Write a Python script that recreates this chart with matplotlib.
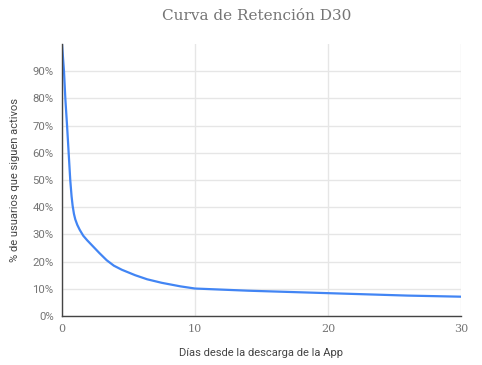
import matplotlib
matplotlib.use("Agg")
import matplotlib.pyplot as plt
from matplotlib.ticker import PercentFormatter

# datos
dias = [0, 0.15, 0.25, 0.38, 0.5, 0.62, 0.72, 0.8, 0.9, 1.0, 1.15, 1.33, 1.6, 1.9, 2.35,
        2.8, 3.36, 3.9, 4.5, 5.5, 6.4, 7.5, 8.9, 10,
        12, 14, 16, 18, 20, 22, 24, 26, 28, 30]
retencion = [1.00, 0.90, 0.80, 0.70, 0.60, 0.50, 0.44, 0.405, 0.375, 0.355, 0.335, 0.317, 0.295, 0.278, 0.255,
             0.232, 0.205, 0.185, 0.17, 0.15, 0.135, 0.122, 0.109, 0.101,
             0.097, 0.093, 0.09, 0.087, 0.084, 0.081, 0.078, 0.075, 0.073, 0.071]
xticks = [0, 10, 20, 30]
yticks = [0, 0.1, 0.2, 0.3, 0.4, 0.5, 0.6, 0.7, 0.8, 0.9]

gris = "#757575"

fig = plt.figure(figsize=(4.82, 3.65), dpi=100)
ax = fig.add_axes([62 / 482, 49 / 365, 399 / 482, 272 / 365])

ax.plot(dias, retencion, color="#4285F4", lw=1.6, solid_capstyle="round",
        solid_joinstyle="round")

ax.set_xlim(0, 30)
ax.set_ylim(0, 1.0)
ax.set_xticks(xticks)
ax.set_yticks(yticks)
ax.yaxis.set_major_formatter(PercentFormatter(1.0, decimals=0))
ax.grid(True, color="#e6e6e6", lw=1)
ax.set_axisbelow(True)

for s in ["top", "right"]:
    ax.spines[s].set_visible(False)
for s in ["left", "bottom"]:
    ax.spines[s].set_color("#444444")
    ax.spines[s].set_linewidth(1)

ax.tick_params(length=0, pad=6)
for lbl in ax.get_yticklabels():
    lbl.set_fontsize(8.2)
    lbl.set_color(gris)
    lbl.set_family("Roboto")
for lbl in ax.get_xticklabels():
    lbl.set_fontsize(8)
    lbl.set_color(gris)
    lbl.set_family("DejaVu Serif")

ax.set_xlabel("Días desde la descarga de la App", fontsize=8, color="#444444",
              family="Roboto", labelpad=10)
ax.set_ylabel("% de usuarios que siguen activos", fontsize=8, color="#444444",
              family="Roboto", labelpad=9)
fig.suptitle("Curva de Retención D30", x=0.532, y=0.975, fontsize=11,
             color=gris, family="DejaVu Serif")

plt.savefig("out.png", dpi=100)
plt.close()
